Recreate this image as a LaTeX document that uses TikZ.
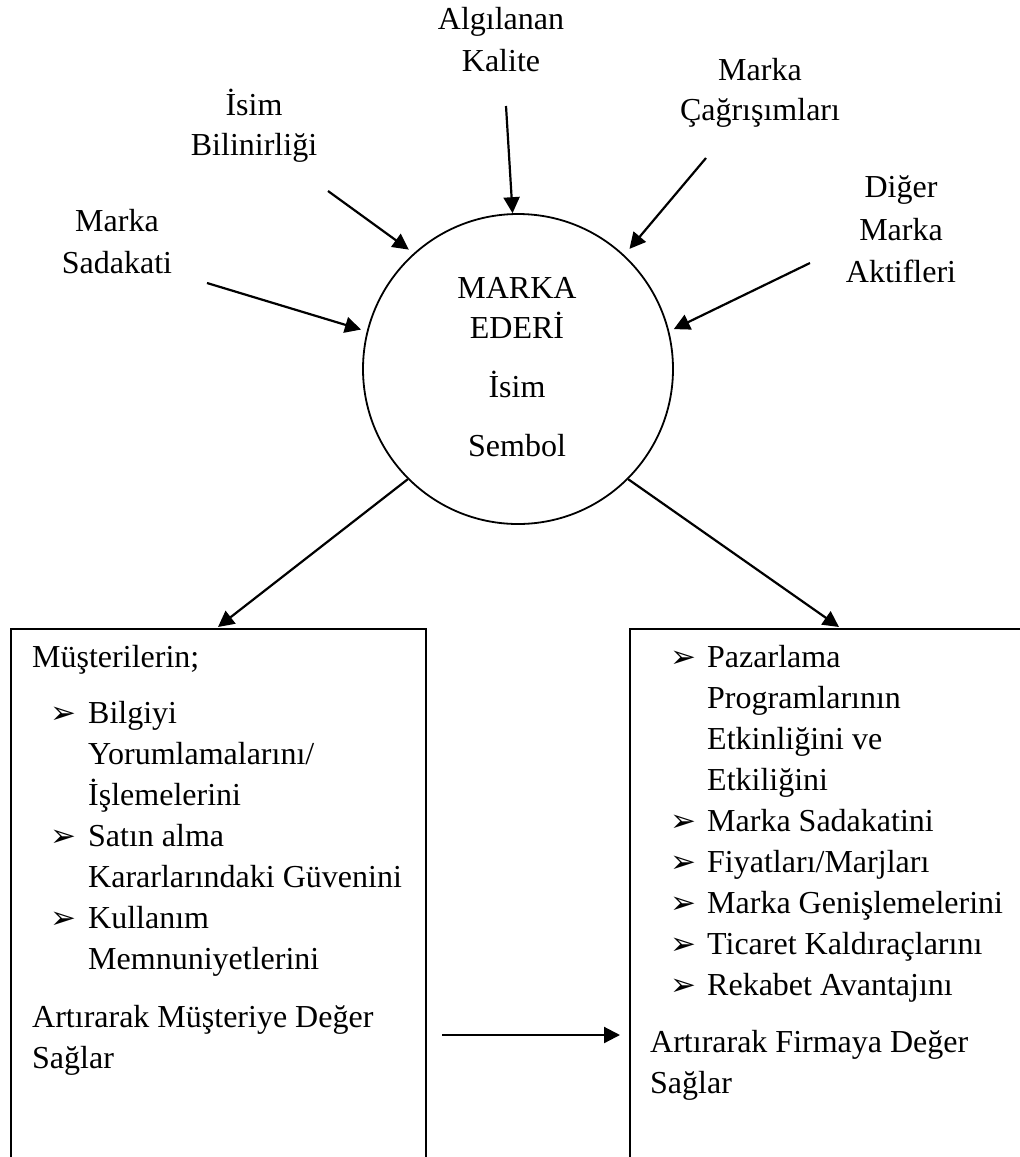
\documentclass[tikz,border=0pt]{standalone}
\usepackage{fontspec}
\setmainfont{Liberation Serif}
\newfontfamily\dingfont{DejaVu Sans}
\usetikzlibrary{arrows.meta,calc}

\begin{document}
\begin{tikzpicture}[x=1pt,y=1pt,
  txt/.style={inner sep=0pt,font=\fontsize{32}{41}\selectfont},
  lbl/.style={txt,anchor=base},
  linel/.style={txt,anchor=base west},
  bullet/.style={inner sep=0pt,anchor=base west,font=\dingfont\fontsize{31}{31}\selectfont},
  conn/.style={line width=2.2pt,-{Triangle[length=16pt,width=16pt]}},
  panel/.style={draw,line width=2pt,rectangle,anchor=north west,inner sep=0pt}]
\useasboundingbox (0,0) rectangle (1020,-1157);
\clip (0,0) rectangle (1020,-1157);

% central circle
\node[circle,draw,line width=1.8pt,minimum size=310pt,inner sep=0pt] (c) at (518,-369) {};
\node[lbl] (c1) at (517,-298) {MARKA};
\node[lbl] (c2) at (517,-338) {EDERİ};
\node[lbl] (c3) at (517,-397) {İsim};
\node[lbl] (c4) at (517,-456) {Sembol};

% surrounding sources
\node[lbl] (q1) at (501,-29) {Algılanan};
\node[lbl] (q2) at (501,-71) {Kalite};
\node[lbl] (n1) at (254,-115) {İsim};
\node[lbl] (n2) at (254,-155) {Bilinirliği};
\node[lbl] (s1) at (117,-231) {Marka};
\node[lbl] (s2) at (117,-273) {Sadakati};
\node[lbl] (a1) at (760,-80) {Marka};
\node[lbl] (a2) at (760,-120) {Çağrışımları};
\node[lbl] (d1) at (901,-197) {Diğer};
\node[lbl] (d2) at (901,-240) {Marka};
\node[lbl] (d3) at (901,-282) {Aktifleri};

\coordinate (qs) at (506,-106);
\coordinate (ns) at (328,-191);
\coordinate (ss) at (207,-283);
\coordinate (as) at (706,-158);
\coordinate (ds) at (810,-263);

\draw[conn] (qs) -- (c.92.6);
\draw[conn,shorten >=6pt] (ns) -- (c.132);
\draw[conn,shorten >=6pt] (ss) -- (c.166);
\draw[conn,shorten >=8pt] (as) -- (c.47.5);
\draw[conn,shorten >=5pt] (ds) -- (c.14.8);

% lower panels
\node[panel,minimum width=415pt,minimum height=620pt] (lbox) at (10,-628) {};
\node[panel,minimum width=450pt,minimum height=620pt] (rbox) at (629,-628) {};

\draw[conn] (c.225.5) -- ($(lbox.north west)+(208,1)$);
\draw[conn] (c.315.3) -- ($(rbox.north west)+(210,1)$);
\draw[conn] ($(lbox.north east)+(15,-407)$) -- ($(rbox.north west)+(-9,-407)$);

% customer side
\node[linel] (l1) at (32,-667) {Müşterilerin;};
\node[bullet] (lb1) at (50,-723) {➢};
\node[linel] (l2) at (88,-723) {Bilgiyi};
\node[linel] (l3) at (88,-764) {Yorumlamalarını/};
\node[linel] (l4) at (88,-805) {İşlemelerini};
\node[bullet] (lb2) at (50,-846) {➢};
\node[linel] (l5) at (88,-846) {Satın alma};
\node[linel] (l6) at (88,-887) {Kararlarındaki Güvenini};
\node[bullet] (lb3) at (50,-928) {➢};
\node[linel] (l7) at (88,-928) {Kullanım};
\node[linel] (l8) at (88,-969) {Memnuniyetlerini};
\node[linel] (l9) at (32,-1027) {Artırarak Müşteriye Değer};
\node[linel] (l10) at (32,-1068) {Sağlar};

% firm side
\node[bullet] (rb1) at (670,-667) {➢};
\node[linel] (r1) at (707,-667) {Pazarlama};
\node[linel] (r2) at (707,-708) {Programlarının};
\node[linel] (r3) at (707,-749) {Etkinliğini ve};
\node[linel] (r4) at (707,-790) {Etkiliğini};
\node[bullet] (rb2) at (670,-831) {➢};
\node[linel] (r5) at (707,-831) {Marka Sadakatini};
\node[bullet] (rb3) at (670,-872) {➢};
\node[linel] (r6) at (707,-872) {Fiyatları/Marjları};
\node[bullet] (rb4) at (670,-913) {➢};
\node[linel] (r7) at (707,-913) {Marka Genişlemelerini};
\node[bullet] (rb5) at (670,-954) {➢};
\node[linel] (r8) at (707,-954) {Ticaret Kaldıraçlarını};
\node[bullet] (rb6) at (670,-995) {➢};
\node[linel] (r9) at (707,-995) {Rekabet Avantajını};
\node[linel] (r10) at (650,-1052) {Artırarak Firmaya Değer};
\node[linel] (r11) at (650,-1093) {Sağlar};
\end{tikzpicture}
\end{document}
